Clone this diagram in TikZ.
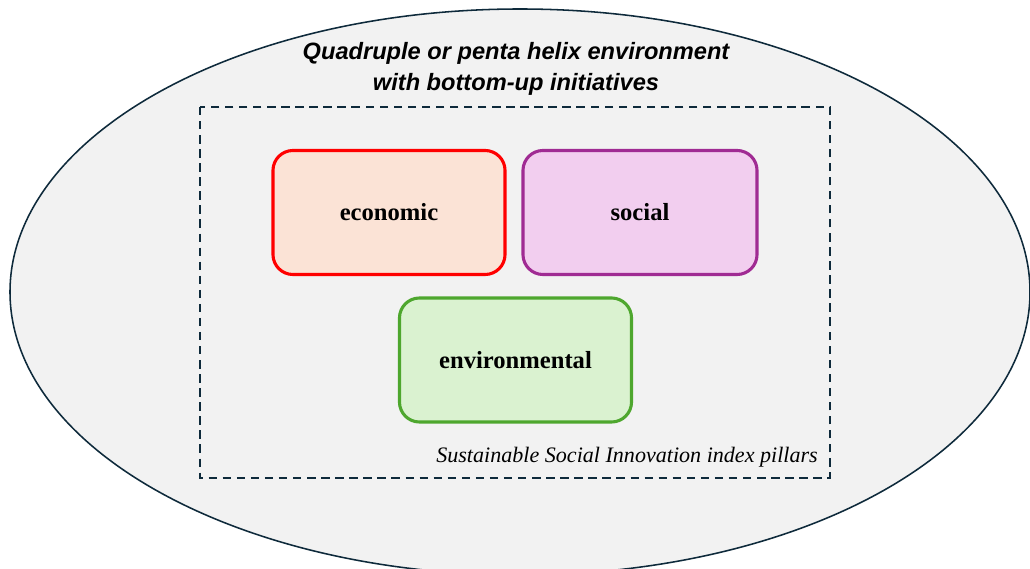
\documentclass[tikz,border=0pt]{standalone}
\usepackage{fontspec}
\setmainfont{Liberation Serif}
\newfontfamily\headfont{Liberation Sans}
\usepackage{tikz}
\definecolor{envfill}{HTML}{F2F2F2}
\definecolor{navy}{HTML}{0E2A3B}
\definecolor{econline}{HTML}{FF0000}
\definecolor{econfill}{HTML}{FBE3D6}
\definecolor{socline}{HTML}{A02B93}
\definecolor{socfill}{HTML}{F2CEEF}
\definecolor{ecoline}{HTML}{4EA72E}
\definecolor{ecofill}{HTML}{DAF2D0}
\tikzset{
  helix/.style={draw=navy, fill=envfill, line width=1.1pt},
  frame/.style={draw=navy, dashed, dash pattern=on 6pt off 4pt, line width=1.1pt},
  pillar/.style={rounded corners=0.5cm, line width=2.2pt, minimum width=5.8cm,
    minimum height=3.1cm, inner sep=0pt, font=\fontsize{17.5}{20}\selectfont\bfseries},
  headm/.style={font=\headfont\fontsize{16.8}{22}\selectfont\bfseries\itshape, align=center},
  capm/.style={font=\fontsize{15.7}{18}\selectfont\itshape, anchor=east, inner sep=0pt}
}

\begin{document}
\begin{tikzpicture}[x=0.025cm, y=-0.025cm]
  \useasboundingbox[fill=white] (0,0) rectangle (1030,569);
  \clip (0,0) rectangle (1030,569);

  \draw[helix] (520,292) ellipse [x radius=510, y radius=283];
  \draw[frame] (200,107) rectangle (830,478);

  \node[headm] (head) at (516,68.5) {Quadruple or penta helix environment\\with bottom-up initiatives};

  \node[pillar, draw=econline, fill=econfill] (econ) at (389,212.5) {economic};
  \node[pillar, draw=socline, fill=socfill, minimum width=5.85cm] (soc) at (640,212.5) {social};
  \node[pillar, draw=ecoline, fill=ecofill] (env) at (515.5,360) {environmental};

  \node[capm] (cap) at (818,457) {Sustainable Social Innovation index pillars};
\end{tikzpicture}
\end{document}
